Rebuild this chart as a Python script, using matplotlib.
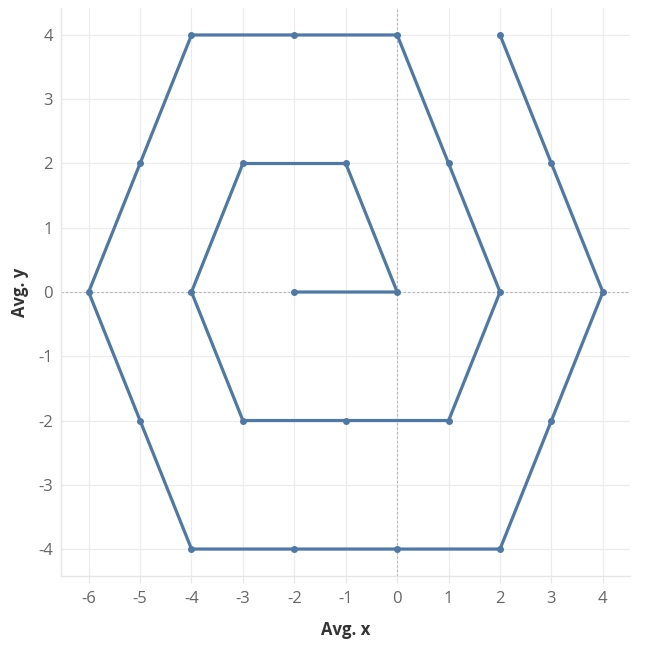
"""Hexagonal spiral path, Avg. x vs Avg. y (Tableau-style line chart)."""

import matplotlib
matplotlib.use("Agg")
import matplotlib.pyplot as plt

# path through the points, in drawing order
x = [-2, 0, -1, -3, -4, -3, -1, 1, 2, 1, 0, -2, -4, -5, -6, -5, -4, -2, 0, 2, 3, 4, 3, 2]
y = [0, 0, 2, 2, 0, -2, -2, -2, 0, 2, 4, 4, 4, 2, 0, -2, -4, -4, -4, -4, -2, 0, 2, 4]

x_ticks = [-6, -5, -4, -3, -2, -1, 0, 1, 2, 3, 4]
y_ticks = [-4, -3, -2, -1, 0, 1, 2, 3, 4]

LINE = "#4e79a7"
GRID = "#ececec"

plt.rcParams["font.family"] = ["Open Sans", "DejaVu Sans"]

fig = plt.figure(figsize=(6.53, 6.5), dpi=100)
ax = fig.add_axes([0.094, 0.1138, 0.871, 0.8739])

ax.plot(x, y, color=LINE, lw=2.3, marker="o", ms=4, solid_joinstyle="round", zorder=3)

ax.axhline(0, color="#b5b5b5", lw=0.8, ls=(0, (2, 2)), zorder=1)
ax.axvline(0, color="#b5b5b5", lw=0.8, ls=(0, (2, 2)), zorder=1)

ax.set_xlim(-6.53, 4.53)
ax.set_ylim(-4.42, 4.42)
ax.set_xticks(x_ticks)
ax.set_yticks(y_ticks)
ax.set_xticklabels([str(v) for v in x_ticks])
ax.set_yticklabels([str(v) for v in y_ticks])
ax.grid(True, color=GRID, lw=0.9, zorder=0)
ax.set_axisbelow(True)

for side in ("top", "right"):
    ax.spines[side].set_visible(False)
for side in ("left", "bottom"):
    ax.spines[side].set_color("#e6e6e6")
    ax.spines[side].set_linewidth(1.0)

ax.tick_params(axis="x", length=5, width=0.8, color="#e6e6e6", labelsize=12,
               labelcolor="#666666", pad=6)
ax.tick_params(axis="y", length=0, labelsize=12, labelcolor="#666666", pad=6)

ax.set_xlabel("Avg. x", fontsize=12, fontweight="bold", color="#333333", labelpad=10)
ax.set_ylabel("Avg. y", fontsize=12, fontweight="bold", color="#333333")
ax.yaxis.set_label_coords(-0.057, 0.5)

fig.savefig("out.png", dpi=100, facecolor="white")
